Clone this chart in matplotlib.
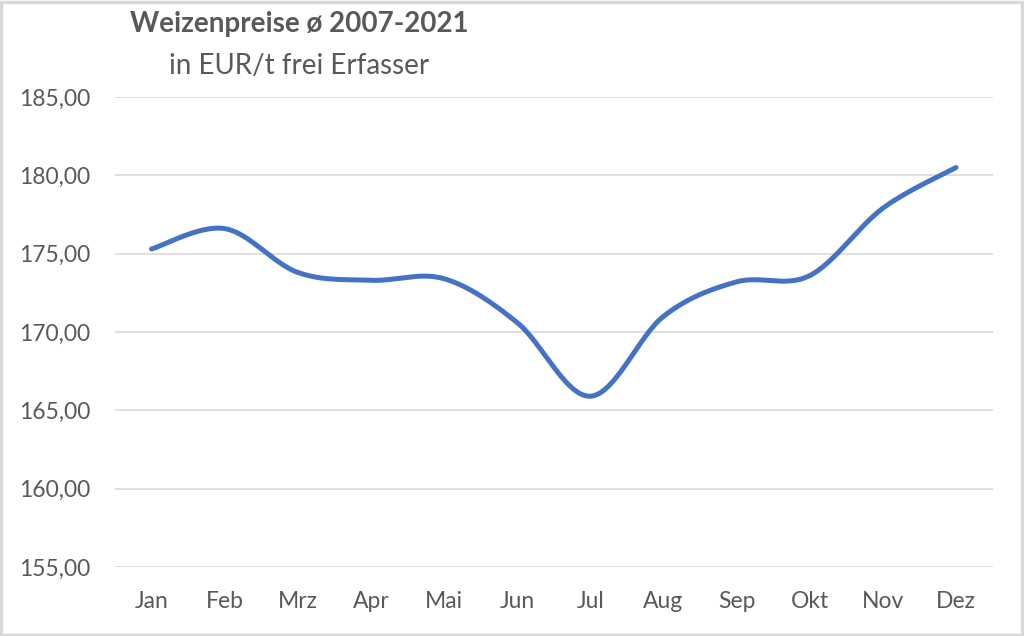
import matplotlib.pyplot as plt
import numpy as np
from matplotlib.patches import Rectangle

months = ['Jan', 'Feb', 'Mrz', 'Apr', 'Mai', 'Jun', 'Jul', 'Aug', 'Sep', 'Okt', 'Nov', 'Dez']
prices = [175.3, 176.6, 173.8, 173.3, 173.4, 170.6, 165.9, 171.0, 173.2, 173.6, 177.9, 180.5]
yticks = [155, 160, 165, 170, 175, 180, 185]


def smooth(x, y, n=30):
    # Catmull-Rom style bezier, like the smoothed line in spreadsheet charts
    x = np.asarray(x, float)
    y = np.asarray(y, float)
    px = np.concatenate([[x[0]], x, [x[-1]]])
    py = np.concatenate([[y[0]], y, [y[-1]]])
    xs, ys = [], []
    t = np.linspace(0, 1, n)
    for i in range(1, len(px) - 2):
        p0 = np.array([px[i], py[i]])
        p3 = np.array([px[i + 1], py[i + 1]])
        p1 = p0 + (np.array([px[i + 1], py[i + 1]]) - np.array([px[i - 1], py[i - 1]])) / 6
        p2 = p3 - (np.array([px[i + 2], py[i + 2]]) - np.array([px[i], py[i]])) / 6
        b = ((1 - t) ** 3)[:, None] * p0 + (3 * (1 - t) ** 2 * t)[:, None] * p1 \
            + (3 * (1 - t) * t ** 2)[:, None] * p2 + (t ** 3)[:, None] * p3
        xs.extend(b[:, 0])
        ys.extend(b[:, 1])
    return xs, ys


plt.rcParams['font.family'] = ['Lato', 'DejaVu Sans']
grey = '#595959'

fig = plt.figure(figsize=(10.24, 6.36), dpi=100)
ax = fig.add_axes([0.1123, 0.1085, 0.857, 0.739])

x = np.arange(len(months))
sx, sy = smooth(x, prices)
ax.plot(sx, sy, color='#4472C4', lw=3.6, solid_capstyle='round', zorder=3)

ax.set_xlim(-0.5, 11.5)
ax.set_ylim(155, 185)
ax.set_yticks(yticks)
ax.set_yticklabels([f'{v:.2f}'.replace('.', ',') for v in yticks])
ax.set_xticks(x)
ax.set_xticklabels(months)
ax.tick_params(axis='both', length=0, labelsize=16.5, colors=grey)
ax.tick_params(axis='y', pad=18)
ax.tick_params(axis='x', pad=17)
ax.grid(axis='y', color='#d9d9d9', lw=1.2)
ax.set_axisbelow(True)
for s in ax.spines.values():
    s.set_visible(False)

fig.text(0.292, 0.962, 'Weizenpreise ø 2007-2021', ha='center', va='center',
         fontsize=20, fontweight='bold', color=grey)
fig.text(0.292, 0.896, 'in EUR/t frei Erfasser', ha='center', va='center',
         fontsize=20, color=grey)

fig.patches.append(Rectangle((0.001, 0.002), 0.997, 0.995, transform=fig.transFigure,
                             fill=False, edgecolor='#d9d9d9', lw=2.5))

fig.savefig('out.png', dpi=100)
